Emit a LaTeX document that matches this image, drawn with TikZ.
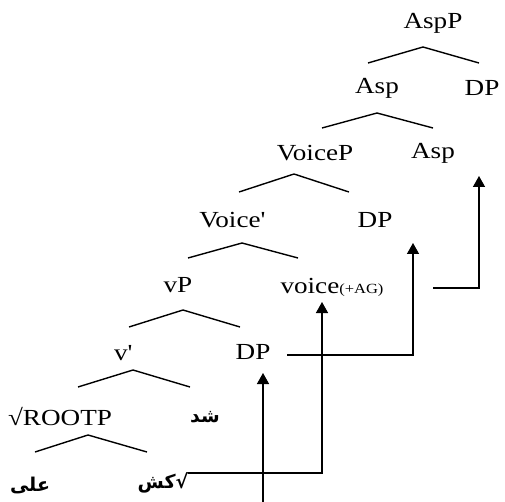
\documentclass[tikz,border=0pt]{standalone}
\usepackage{fontspec}
\setmainfont{Liberation Serif}[FakeStretch=1.18]
\newfontfamily\arabicfont[Script=Arabic]{DejaVu Sans}
\TeXXeTstate=1
\usetikzlibrary{arrows.meta}

\tikzset{
  cat/.style = {inner sep=0pt, font=\fontsize{23}{26}\selectfont},
  arab/.style = {inner sep=0pt, font=\arabicfont\bfseries\fontsize{19}{21}\selectfont},
  branch/.style = {line width=1.4pt},
  move/.style = {line width=1.4pt, -{Triangle[length=11pt, width=12pt]}}
}

\begin{document}
\begin{tikzpicture}[x=1pt, y=-1pt]
    \useasboundingbox (0,0) rectangle (505,502);

    \node [cat] (AspP)   at (433,23)  {AspP};
    \node [cat] (AspA)   at (377,88)  {Asp};
    \node [cat] (DPa)    at (482,88)  {DP};
    \node [cat] (VoiceP) at (315,153) {VoiceP};
    \node [cat] (AspB)   at (433,153) {Asp};
    \node [cat] (Vbar)   at (232,220) {Voice\textquotesingle};
    \node [cat] (DPb)    at (375,220) {DP};
    \node [cat] (vP)     at (178,285) {vP};
    \node [cat] (voice)  at (332,287) {voice{\fontsize{14}{16}\selectfont(+AG)}};
    \node [cat] (vbar)   at (123,353) {v\textquotesingle};
    \node [cat] (DPc)    at (253,352) {DP};
    \node [cat] (RootP)  at (60,417)  {√ROOTP};
    \node [arab] (shod)  at (205,417) {\beginR شد\endR};
    \node [arab] (ala)   at (30,485)  {\beginR على\endR};
    \node [arab] (kash)  at (163,483) {\beginR √کش\endR};
    \coordinate (base) at (263,502);

    % branches
    \draw [branch] ([shift={(-65,40)}]AspP.center) -- ([shift={(-10,24)}]AspP.center)
      -- ([shift={(46,40)}]AspP.center);
    \draw [branch] ([shift={(-55,40)}]AspA.center) -- ([shift={(0,25)}]AspA.center)
      -- ([shift={(56,40)}]AspA.center);
    \draw [branch] ([shift={(-76,39)}]VoiceP.center) -- ([shift={(-21,21)}]VoiceP.center)
      -- ([shift={(34,39)}]VoiceP.center);
    \draw [branch] ([shift={(-44,38)}]Vbar.center) -- ([shift={(10,23)}]Vbar.center)
      -- ([shift={(66,38)}]Vbar.center);
    \draw [branch] ([shift={(-49,42)}]vP.center) -- ([shift={(5,25)}]vP.center)
      -- ([shift={(62,42)}]vP.center);
    \draw [branch] ([shift={(-45,34)}]vbar.center) -- ([shift={(10,17)}]vbar.center)
      -- ([shift={(67,34)}]vbar.center);
    \draw [branch] ([shift={(-25,35)}]RootP.center) -- ([shift={(28,18)}]RootP.center)
      -- ([shift={(87,35)}]RootP.center);

    % movement
    \draw [move] ([shift={(101,1)}]voice.center) -| ([shift={(46,23)}]AspB.center);
    \draw [move] ([shift={(34,3)}]DPc.center) -| ([shift={(38,23)}]DPb.center);
    \draw [move] ([shift={(25,-10)}]kash.center) -| ([shift={(-10,15)}]voice.center);
    \draw [move] (base) -- ([shift={(10,21)}]DPc.center);
\end{tikzpicture}
\end{document}
